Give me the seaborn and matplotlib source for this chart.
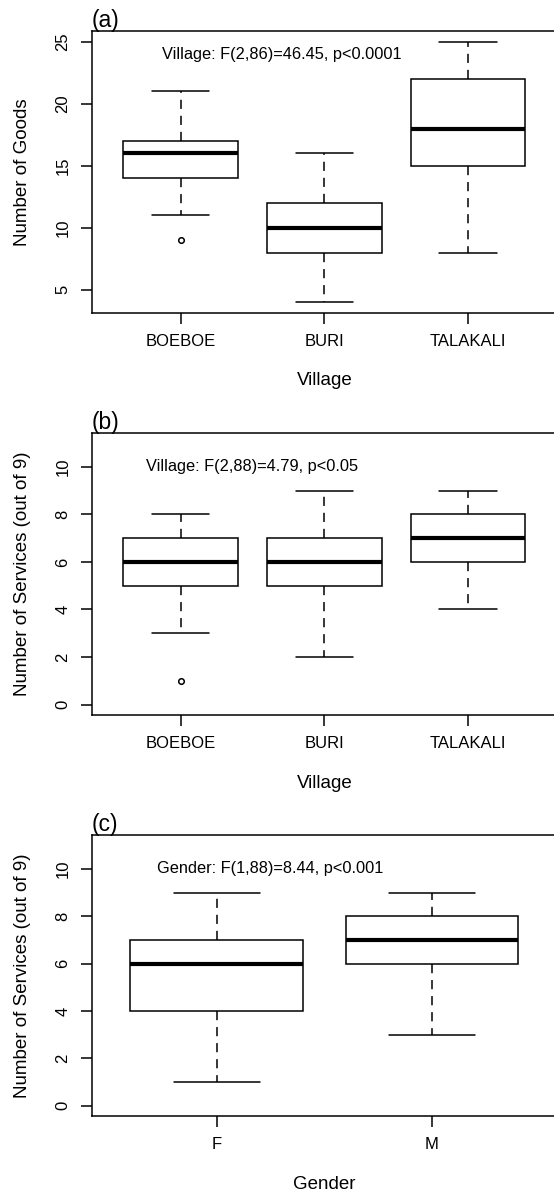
import numpy as np
import pandas as pd
import matplotlib
matplotlib.use("Agg")
import matplotlib.pyplot as plt
import matplotlib.transforms as mtransforms
import seaborn as sns

# ---------------- data ----------------
villages = ["BOEBOE", "BURI", "TALAKALI"]
genders = ["F", "M"]

# (a) number of goods per village (samples reproducing the drawn box statistics)
goods_boeboe = [9, 11, 14, 15, 16, 16, 17, 20, 21]
goods_buri = [4, 8, 10, 12, 16]
goods_talakali = [8, 15, 18, 22, 25]

# (b) number of services per village
services_boeboe = [1, 3, 5, 5, 6, 6, 7, 8, 8]
services_buri = [2, 5, 6, 7, 9]
services_talakali = [4, 6, 7, 8, 9]

# (c) number of services per gender
services_f = [1, 4, 6, 7, 9]
services_m = [3, 6, 7, 8, 9]

goods_ticks = [5, 10, 15, 20, 25]
services_ticks = [0, 2, 4, 6, 8, 10]

annot_a = "Village: F(2,86)=46.45, p<0.0001"
annot_b = "Village: F(2,88)=4.79, p<0.05"
annot_c = "Gender: F(1,88)=8.44, p<0.001"

df_a = pd.DataFrame({
    "Village": np.repeat(villages, [len(goods_boeboe), len(goods_buri), len(goods_talakali)]),
    "Goods": goods_boeboe + goods_buri + goods_talakali,
})
df_b = pd.DataFrame({
    "Village": np.repeat(villages, [len(services_boeboe), len(services_buri), len(services_talakali)]),
    "Services": services_boeboe + services_buri + services_talakali,
})
df_c = pd.DataFrame({
    "Gender": np.repeat(genders, [len(services_f), len(services_m)]),
    "Services": services_f + services_m,
})

# ---------------- style ----------------
sns.set_style("white", {"axes.edgecolor": "black", "text.color": "black"})
plt.rcParams["font.family"] = ["Liberation Sans", "DejaVu Sans"]
plt.rcParams["axes.linewidth"] = 1.1

W, H = 554, 1194
fig = plt.figure(figsize=(W / 100, H / 100), dpi=100)

left_px, right_px = 91.7, 557.0
panels = [
    (31.3, 312.7),
    (432.7, 715.0),
    (834.7, 1116.3),
]

def make_ax(top, bottom):
    return fig.add_axes([left_px / W, 1 - bottom / H,
                         (right_px - left_px) / W, (bottom - top) / H])

LW = 1.1
box_kws = dict(
    color="white", linecolor="black", linewidth=LW, width=0.8, whis=1.5,
    fliersize=4.0,
    medianprops=dict(linewidth=3.0, color="black", solid_capstyle="butt"),
    whiskerprops=dict(linestyle=(0, (6.0, 4.5)), linewidth=LW),
    capprops=dict(linewidth=LW),
    flierprops=dict(marker="o", markerfacecolor="none",
                    markeredgecolor="black", markeredgewidth=1.1),
)

def style_ax(ax, ylim, yticks, xlabel, ylabel, letter, top, bottom, ncat):
    ax.set_ylim(*ylim)
    ax.set_yticks(yticks)
    ax.set_yticklabels([str(t) for t in yticks], rotation=90, va="center")
    pad_x = 0.58 if ncat == 2 else 0.62
    ax.set_xlim(-pad_x, ncat - 1 + pad_x)
    ax.tick_params(axis="both", direction="out", length=7.7, width=LW,
                   color="black", labelsize=12, labelcolor="black")
    ax.tick_params(axis="x", pad=7.3)
    ax.tick_params(axis="y", pad=7.5)
    ax.tick_params(left=True, bottom=True)
    ax.set_xlabel(xlabel, fontsize=13.5, color="black")
    ax.set_ylabel(ylabel, fontsize=13.5, color="black")
    h_px = bottom - top
    w_px = right_px - left_px
    ax.xaxis.set_label_coords(0.5, -59.5 / h_px)
    ax.yaxis.set_label_coords((31.5 - left_px) / w_px, 0.5)
    for s in ax.spines.values():
        s.set_visible(True)
        s.set_color("black")
        s.set_linewidth(LW)
    trans = mtransforms.offset_copy(ax.transAxes, fig=fig, x=0, y=-1.2, units="dots")
    ax.text(0.0, 1.0, letter, transform=trans, ha="left", va="bottom",
            fontsize=16.5, color="black")

# (a)
ax = make_ax(*panels[0])
sns.boxplot(data=df_a, x="Village", y="Goods", order=villages, ax=ax, **box_kws)
style_ax(ax, (3.16, 25.84), goods_ticks, "Village", "Number of Goods", "(a)",
         *panels[0], 3)
ax.text(0.70, 24.0, annot_a, ha="center", va="center", fontsize=11.8, color="black")

# (b)
ax = make_ax(*panels[1])
sns.boxplot(data=df_b, x="Village", y="Services", order=villages, ax=ax, **box_kws)
style_ax(ax, (-0.44, 11.44), services_ticks, "Village",
         "Number of Services (out of 9)", "(b)", *panels[1], 3)
ax.text(0.50, 10.0, annot_b, ha="center", va="center", fontsize=11.8, color="black")

# (c)
ax = make_ax(*panels[2])
sns.boxplot(data=df_c, x="Gender", y="Services", order=genders, ax=ax, **box_kws)
style_ax(ax, (-0.44, 11.44), services_ticks, "Gender",
         "Number of Services (out of 9)", "(c)", *panels[2], 2)
ax.text(0.25, 10.0, annot_c, ha="center", va="center", fontsize=11.8, color="black")

fig.savefig("out.png", dpi=100, facecolor="white")
